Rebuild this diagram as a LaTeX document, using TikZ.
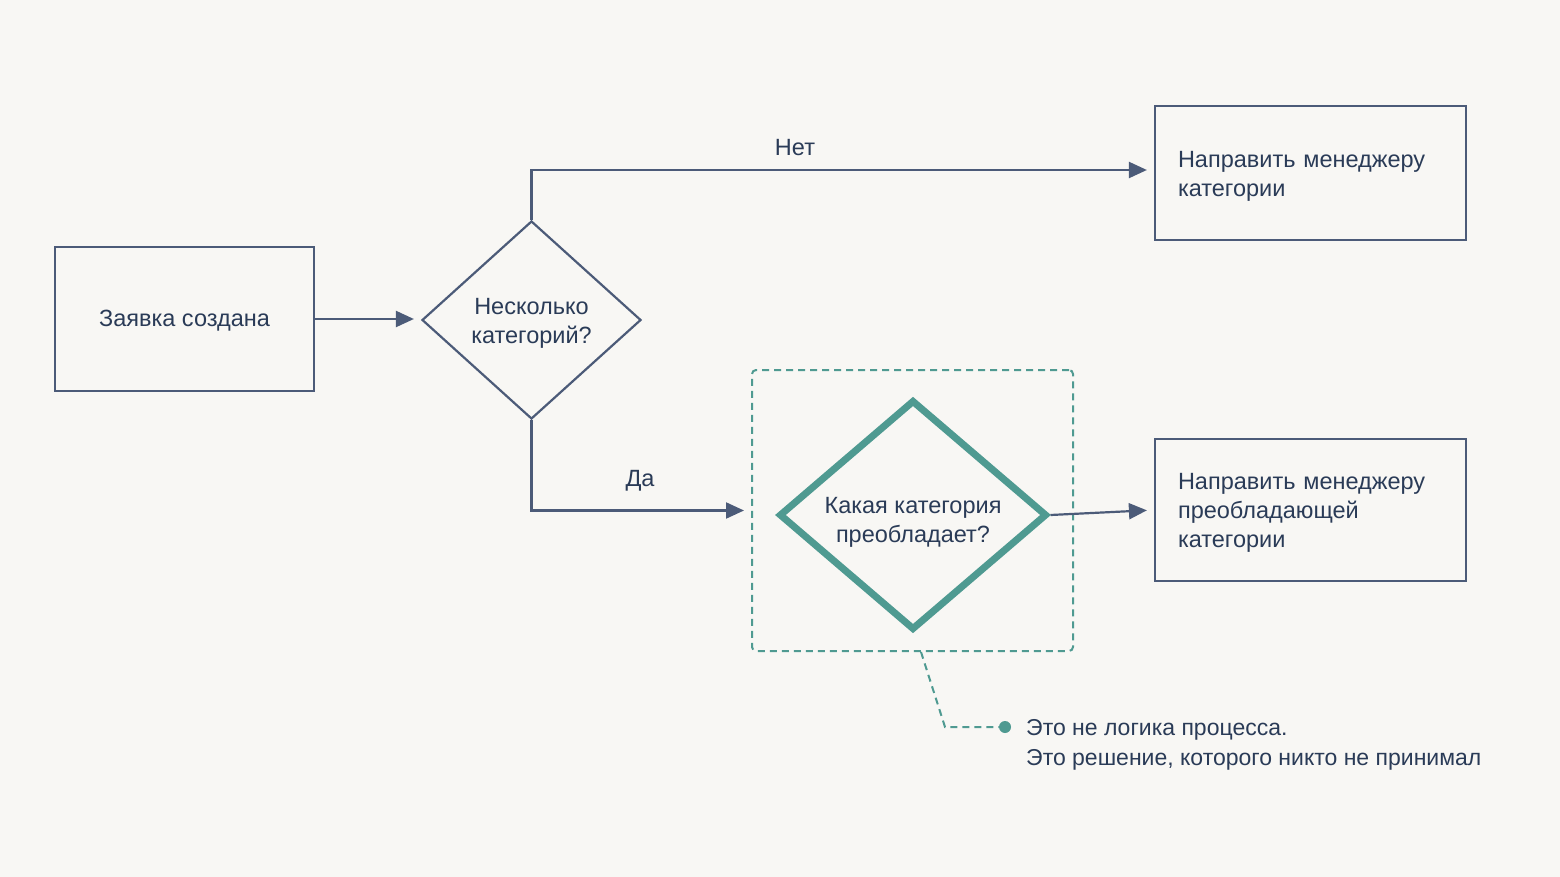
\documentclass[tikz,border=0pt]{standalone}
\usepackage{fontspec}
\setmainfont{Liberation Sans}
\usetikzlibrary{shapes.geometric,arrows.meta,calc}
\definecolor{bg}{HTML}{F8F7F4}
\definecolor{navy}{HTML}{4C5B78}
\definecolor{ink}{HTML}{2A3B57}
\definecolor{teal}{HTML}{4F9A91}
\tikzset{
  base/.style={font=\fontsize{23.5}{29}\selectfont, text=ink},
  box/.style={draw=navy, line width=2.2pt, rectangle, inner sep=0pt},
  dbox/.style={draw=navy, line width=2.2pt, diamond, inner sep=0pt},
  conn/.style={draw=navy, line width=2.2pt, -{Triangle[length=18pt,width=16pt]}},
  lbl/.style={base, inner sep=0pt},
}
\begin{document}
\begin{tikzpicture}[x=1pt,y=-1pt]
\fill[bg] (0,0) rectangle (1560,877);
\useasboundingbox (0,0) rectangle (1560,877);

% nodes
\node[box, minimum width=259pt, minimum height=144pt] (start) at (184.5,319) {};
\node[lbl] at ($(start)+(0,2)$) {Заявка создана};
\node[dbox, minimum width=219pt, minimum height=198pt] (d1) at (531.5,320) {};
\node[lbl, align=center] at ($(d1)+(0,3)$) {Несколько\\категорий?};

\node[box, minimum width=311pt, minimum height=134pt] (b2) at (1310.5,173) {};
\node[lbl, text width=265pt, align=left] at ($(b2)+(0,3)$) {Направить менеджеру\\категории};
\node[box, minimum width=311pt, minimum height=142pt] (b3) at (1310.5,510) {};
\node[lbl, text width=265pt, align=left] at ($(b3)+(0,3)$) {Направить менеджеру\\преобладающей\\категории};

\node[draw=teal, line width=2pt, dash pattern=on 7pt off 5pt, rounded corners=4pt, rectangle, minimum width=321pt, minimum height=281pt, inner sep=0pt] (grp) at (912.5,510.5) {};
\node[diamond, draw=teal, line width=7pt, minimum width=268pt, minimum height=230pt, inner sep=0pt] (d2) at (913,515) {};
\node[lbl, align=center] at ($(d2)+(0,7)$) {Какая категория\\преобладает?};

% connectors
\draw[conn, shorten >=7pt] (start.east) -- (start.east -| d1.west);
\draw[conn, shorten >=7pt] (d1.north) |- ($(b2.west)+(0,-3)$);
\draw[conn, shorten >=7pt] (d1.south) |- (grp.west);
\draw[conn, shorten >=7pt] (d2.east) -- (b3.west);

\node[lbl] (no) at (795,148) {Нет};
\node[lbl] (yes) at (640,481) {Да};

% callout
\node[circle, fill=teal, inner sep=0pt, minimum size=12pt] (dot) at (1005,727) {};
\coordinate (c0) at ($(grp.south)+(8.5,0)$);
\coordinate (c1) at (945,727);
\draw[teal, line width=2pt, dash pattern=on 7pt off 5pt] (c0) -- (c1) -- (dot);
\node[lbl, font=\fontsize{23}{30}\selectfont, align=left, anchor=west] (note) at (1026,745) {Это не логика процесса.\\Это решение, которого никто не принимал};
\end{tikzpicture}
\end{document}
